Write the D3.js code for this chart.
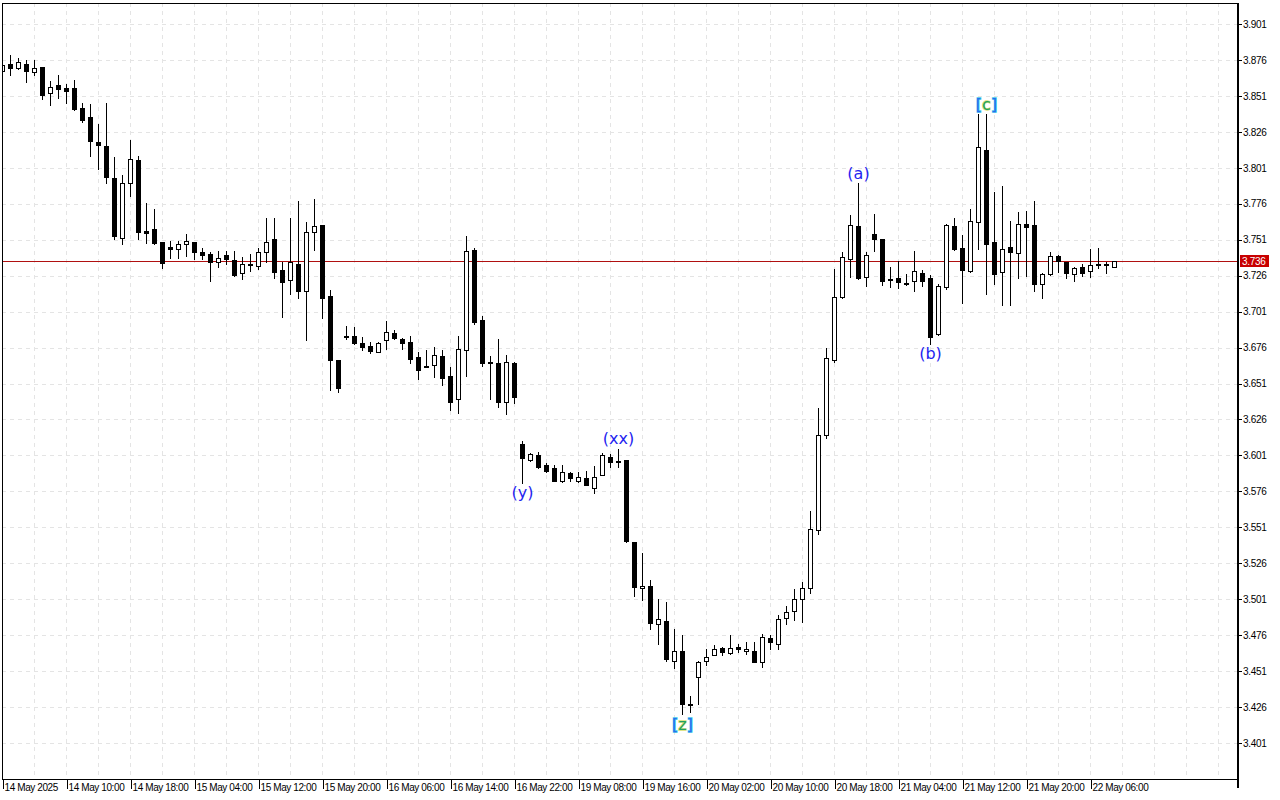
<!DOCTYPE html>
<html>
<head>
<meta charset="utf-8">
<script src="https://cdn.jsdelivr.net/npm/d3@7"></script>
<style>
body { margin: 0; background: #fff; }
svg { display: block; }
</style>
</head>
<body>
<svg id="chart" width="1280" height="800"></svg>
<script>
// hourly candles
const openP = [
    3.868, 3.8732, 3.8704, 3.8732, 3.8676, 3.871, 3.853, 3.8586, 3.8565, 3.8565,
    3.8426, 3.8363, 3.8189, 3.8161, 3.7939, 3.7522, 3.7904, 3.8064, 3.757, 3.7585,
    3.7494, 3.746, 3.7446, 3.748, 3.7494, 3.7425, 3.7411, 3.7355, 3.7404, 3.7369,
    3.7279, 3.7334, 3.7327, 3.7425, 3.7515, 3.7299, 3.723, 3.7341, 3.7153, 3.7563,
    3.7612, 3.7119, 3.6674, 3.6843, 3.684, 3.6792, 3.6771, 3.673, 3.6813, 3.6861,
    3.682, 3.6799, 3.6694, 3.6625, 3.6639, 3.6701, 3.6562, 3.6402, 3.6743, 3.7438,
    3.6952, 3.666, 3.6653, 3.6381, 3.6653, 3.609, 3.5978, 3.6013, 3.5943, 3.5923,
    3.5832, 3.5888, 3.5832, 3.5853, 3.5783, 3.5874, 3.5999, 3.5971, 3.5978, 3.5408,
    3.5088, 3.5102, 3.4838, 3.4858, 3.458, 3.465, 3.4281, 3.4469, 3.458, 3.4622,
    3.4671, 3.4636, 3.4678, 3.465, 3.465, 3.4573, 3.474, 3.4699, 3.488, 3.4928,
    3.5012, 3.5088, 3.5491, 3.6152, 3.6674, 3.7112, 3.7376, 3.7605, 3.7251, 3.755,
    3.7515, 3.7237, 3.7244, 3.7209, 3.7223, 3.7278, 3.7244, 3.6854, 3.7181, 3.7605,
    3.7452, 3.7293, 3.7633, 3.8134, 3.7494, 3.7286, 3.7459, 3.7418, 3.7619, 3.7612,
    3.7202, 3.7272, 3.7397, 3.7355, 3.7272, 3.732, 3.7293, 3.7341, 3.7334, 3.7321
];
const highP = [
    3.874, 3.8794, 3.8774, 3.876, 3.876, 3.871, 3.8614, 3.8655, 3.8593, 3.862,
    3.846, 3.8454, 3.8315, 3.846, 3.8085, 3.796, 3.8203, 3.8092, 3.7765, 3.7724,
    3.7494, 3.7502, 3.7502, 3.755, 3.7494, 3.7453, 3.7425, 3.7432, 3.7432, 3.7432,
    3.739, 3.7411, 3.7453, 3.7661, 3.7661, 3.7355, 3.7661, 3.7779, 3.7633, 3.7793,
    3.7612, 3.716, 3.6674, 3.691, 3.6903, 3.6834, 3.6799, 3.6799, 3.6945, 3.6882,
    3.6827, 3.684, 3.6729, 3.6743, 3.6764, 3.6743, 3.6625, 3.684, 3.7536, 3.7452,
    3.698, 3.6701, 3.682, 3.6708, 3.666, 3.6111, 3.6027, 3.6034, 3.5957, 3.5943,
    3.5943, 3.5895, 3.5895, 3.5902, 3.5936, 3.6027, 3.602, 3.6055, 3.5978, 3.5408,
    3.5332, 3.5143, 3.5012, 3.4991, 3.4803, 3.4761, 3.4337, 3.458, 3.4664, 3.4692,
    3.4678, 3.4761, 3.4699, 3.4713, 3.4713, 3.4768, 3.4761, 3.4901, 3.4963, 3.5081,
    3.513, 3.5623, 3.634, 3.6757, 3.7306, 3.7425, 3.7682, 3.7904, 3.7425, 3.7689,
    3.7515, 3.7321, 3.7362, 3.7272, 3.7432, 3.7299, 3.7265, 3.7202, 3.7619, 3.7661,
    3.7543, 3.7724, 3.8384, 3.8384, 3.7842, 3.7883, 3.764, 3.7703, 3.771, 3.7779,
    3.7279, 3.7425, 3.7404, 3.7355, 3.732, 3.7341, 3.7445, 3.7452, 3.7355, 3.7362
];
const lowP = [
    3.866, 3.8655, 3.870, 3.861, 3.8655, 3.8488, 3.8447, 3.8495, 3.846, 3.8412,
    3.8328, 3.8092, 3.8002, 3.7904, 3.7515, 3.748, 3.7814, 3.7515, 3.7488, 3.748,
    3.7313, 3.7384, 3.7384, 3.7397, 3.7376, 3.7376, 3.7223, 3.732, 3.7341, 3.7258,
    3.7237, 3.7293, 3.7306, 3.7355, 3.7244, 3.6972, 3.7132, 3.7105, 3.6812, 3.7438,
    3.6966, 3.6465, 3.6451, 3.682, 3.6785, 3.6743, 3.6722, 3.673, 3.675, 3.682,
    3.675, 3.6653, 3.6541, 3.6625, 3.6555, 3.65, 3.6326, 3.6305, 3.6562, 3.6924,
    3.6632, 3.6402, 3.6347, 3.6298, 3.6374, 3.5819, 3.5971, 3.5923, 3.5895, 3.5832,
    3.5825, 3.5832, 3.5825, 3.5804, 3.5749, 3.5874, 3.593, 3.593, 3.541, 3.5032,
    3.5005, 3.4803, 3.4699, 3.458, 3.4532, 3.4212, 3.4226, 3.4281, 3.4552, 3.4622,
    3.4622, 3.4629, 3.4643, 3.4629, 3.4573, 3.4539, 3.4664, 3.4664, 3.4838, 3.4866,
    3.4852, 3.5053, 3.5463, 3.6131, 3.666, 3.7105, 3.7251, 3.7237, 3.7188, 3.7432,
    3.7195, 3.7181, 3.7174, 3.7195, 3.7153, 3.7188, 3.6785, 3.6847, 3.7167, 3.7438,
    3.707, 3.7286, 3.7445, 3.7132, 3.7202, 3.7056, 3.7056, 3.7244, 3.7258, 3.7153,
    3.7105, 3.7265, 3.7286, 3.7244, 3.7223, 3.7258, 3.7251, 3.7313, 3.7278, 3.732
];
const closeP = [
    3.8725, 3.8704, 3.8746, 3.8683, 3.8704, 3.8516, 3.8572, 3.8558, 3.8544, 3.8419,
    3.8343, 3.8197, 3.8168, 3.7946, 3.7536, 3.7904, 3.8071, 3.7564, 3.7557, 3.7488,
    3.735, 3.7446, 3.748, 3.7502, 3.7425, 3.7404, 3.7355, 3.7383, 3.7376, 3.7265,
    3.7341, 3.7338, 3.7425, 3.7494, 3.7286, 3.7216, 3.7355, 3.7153, 3.7563, 3.7605,
    3.7105, 3.6674, 3.6479, 3.6836, 3.6792, 3.6764, 3.6736, 3.6792, 3.6868, 3.6827,
    3.6792, 3.6681, 3.6604, 3.6632, 3.6708, 3.6548, 3.6381, 3.675, 3.7431, 3.6938,
    3.6653, 3.6653, 3.6381, 3.666, 3.6416, 3.5993, 3.602, 3.593, 3.5902, 3.5832,
    3.5895, 3.5853, 3.586, 3.5804, 3.586, 3.6013, 3.5964, 3.5964, 3.5415, 3.5095,
    3.5102, 3.4845, 3.4872, 3.4594, 3.465, 3.4281, 3.4274, 3.4573, 3.4608, 3.4664,
    3.4643, 3.4671, 3.4664, 3.4664, 3.4573, 3.4747, 3.4713, 3.4873, 3.4921, 3.5012,
    3.5088, 3.5498, 3.6152, 3.6687, 3.7112, 3.739, 3.7612, 3.7244, 3.7404, 3.7515,
    3.7223, 3.723, 3.7216, 3.7202, 3.7293, 3.7223, 3.6833, 3.7188, 3.7612, 3.7445,
    3.7299, 3.764, 3.8155, 3.748, 3.7272, 3.7445, 3.7425, 3.7619, 3.7598, 3.7202,
    3.7272, 3.7397, 3.7362, 3.7278, 3.7313, 3.7278, 3.7334, 3.7334, 3.7341, 3.736
];

const priceTicks = [3.401, 3.426, 3.451, 3.476, 3.501, 3.526, 3.551, 3.576, 3.601, 3.626, 3.651,
    3.676, 3.701, 3.726, 3.751, 3.776, 3.801, 3.826, 3.851, 3.876, 3.901];
const timeBars = [0, 8, 16, 24, 32, 40, 48, 56, 64, 72, 80, 88, 96, 104, 112, 120, 128, 136];
const timeLabels = ["14 May 2025", "14 May 10:00", "14 May 18:00", "15 May 04:00", "15 May 12:00",
    "15 May 20:00", "16 May 06:00", "16 May 14:00", "16 May 22:00", "19 May 08:00", "19 May 16:00",
    "20 May 02:00", "20 May 10:00", "20 May 18:00", "21 May 04:00", "21 May 12:00", "21 May 20:00",
    "22 May 06:00"];

const waveText = ["(y)", "(xx)", "[z]", "(a)", "(b)", "[c]"];
const waveBars = [65, 77, 85, 107, 116, 123];
const waveSide = ["below", "above", "below", "above", "below", "above"];

const lastPrice = 3.736;

const plotLeft = 2, plotRight = 1237, plotTop = 3, plotBottom = 779;
const barStep = 8;

const svg = d3.select("#chart");

const x = d3.scaleLinear().domain([0, (plotRight - plotLeft) / barStep]).range([plotLeft, plotRight]);
const y = d3.scaleLinear().domain([3.376, 3.9156]).range([plotBottom, plotTop]);

const font = "'Liberation Sans', Arial, sans-serif";

// grid
const grid = svg.append("g").attr("shape-rendering", "crispEdges");
grid.selectAll("line.h")
    .data(priceTicks)
    .join("line")
    .attr("class", "h")
    .attr("x1", plotLeft).attr("x2", plotRight)
    .attr("y1", d => Math.round(y(d)) + 0.5).attr("y2", d => Math.round(y(d)) + 0.5)
    .attr("stroke", "#e4e4e4").attr("stroke-dasharray", "4,4");

grid.selectAll("line.v")
    .data(d3.range(4, (plotRight - plotLeft) / barStep, 4))
    .join("line")
    .attr("class", "v")
    .attr("x1", d => Math.round(x(d)) + 0.5).attr("x2", d => Math.round(x(d)) + 0.5)
    .attr("y1", plotTop).attr("y2", plotBottom)
    .attr("stroke", "#e4e4e4").attr("stroke-dasharray", "4,4");

// price line
svg.append("line")
    .attr("x1", plotLeft).attr("x2", plotRight)
    .attr("y1", Math.round(y(lastPrice)) + 0.5).attr("y2", Math.round(y(lastPrice)) + 0.5)
    .attr("stroke", "#b01010")
    .attr("shape-rendering", "crispEdges");

// candles
svg.append("clipPath").attr("id", "plot-clip")
    .append("rect").attr("x", plotLeft).attr("y", plotTop)
    .attr("width", plotRight - plotLeft).attr("height", plotBottom - plotTop);

const candles = svg.append("g")
    .attr("clip-path", "url(#plot-clip)")
    .attr("shape-rendering", "crispEdges");

const bars = openP.map((o, i) => ({ i: i, o: o, h: highP[i], l: lowP[i], c: closeP[i] }));

candles.selectAll("line.wick")
    .data(bars)
    .join("line")
    .attr("class", "wick")
    .attr("x1", d => Math.round(x(d.i)) + 0.5).attr("x2", d => Math.round(x(d.i)) + 0.5)
    .attr("y1", d => Math.round(y(d.h))).attr("y2", d => Math.round(y(d.l)) + 1)
    .attr("stroke", "#000");

candles.selectAll("rect.down")
    .data(bars.filter(d => d.c < d.o))
    .join("rect")
    .attr("class", "down")
    .attr("x", d => Math.round(x(d.i)) - 2)
    .attr("y", d => Math.round(y(d.o)))
    .attr("width", 5)
    .attr("height", d => Math.max(1, Math.round(y(d.c)) - Math.round(y(d.o)) + 1))
    .attr("fill", "#000");

candles.selectAll("rect.up")
    .data(bars.filter(d => d.c >= d.o))
    .join("rect")
    .attr("class", "up")
    .attr("x", d => Math.round(x(d.i)) - 1.5)
    .attr("y", d => Math.round(y(d.c)) + 0.5)
    .attr("width", 4)
    .attr("height", d => Math.max(0, Math.round(y(d.o)) - Math.round(y(d.c))))
    .attr("fill", "#fff")
    .attr("stroke", "#000");

// wave labels
const labels = svg.append("g").attr("font-family", "'DejaVu Sans', Verdana, sans-serif").attr("font-size", 16);
waveText.forEach((t, k) => {
    const d = bars[waveBars[k]];
    const cx = x(d.i) + 0.5;
    const cy = waveSide[k] === "above" ? y(d.h) - 10 : y(d.l) + 10;
    const label = labels.append("text")
        .attr("x", cx).attr("y", cy)
        .attr("text-anchor", "middle")
        .attr("dominant-baseline", "central");
    if (t[0] === "[") {
        // the original shows a few labels printed on top of each other: coloured halo
        label.attr("stroke", "#d8e070").attr("stroke-width", 1.4).attr("paint-order", "stroke");
        label.append("tspan").attr("fill", "#2a6cf0").attr("stroke", "#40c8e8").text(t[0]);
        label.append("tspan").attr("fill", "#22a060").text(t.slice(1, -1));
        label.append("tspan").attr("fill", "#2a6cf0").attr("stroke", "#40c8e8").text(t.slice(-1));
    } else {
        label.attr("fill", "#2424f0").text(t);
    }
});

// frame
svg.append("path")
    .attr("d", `M${plotLeft + 0.5},${plotBottom + 0.5}V${plotTop + 0.5}H${plotRight}`)
    .attr("fill", "none").attr("stroke", "#000")
    .attr("shape-rendering", "crispEdges");
svg.append("line")
    .attr("x1", plotLeft).attr("x2", plotRight)
    .attr("y1", plotBottom + 0.5).attr("y2", plotBottom + 0.5)
    .attr("stroke", "#000").attr("shape-rendering", "crispEdges");
svg.append("line")
    .attr("x1", plotRight + 0.5).attr("x2", plotRight + 0.5)
    .attr("y1", plotTop).attr("y2", 788)
    .attr("stroke", "#000").attr("stroke-width", 2).attr("shape-rendering", "crispEdges");

// price axis
const yAxis = svg.append("g")
    .attr("transform", `translate(${plotRight + 1},0)`)
    .call(d3.axisRight(y).tickValues(priceTicks).tickFormat(d3.format(".3f")).tickSize(4).tickPadding(1));
yAxis.select(".domain").remove();
yAxis.selectAll(".tick line").attr("stroke", "#000").attr("shape-rendering", "crispEdges");
yAxis.selectAll(".tick text")
    .attr("font-family", font).attr("font-size", 10).attr("letter-spacing", "-0.3px").attr("fill", "#000");

// last price tag
svg.append("rect")
    .attr("x", plotRight + 3).attr("y", Math.round(y(lastPrice)) - 6)
    .attr("width", 29).attr("height", 12)
    .attr("fill", "#c80000");
svg.append("text")
    .attr("x", plotRight + 5).attr("y", y(lastPrice) + 0.5)
    .attr("dominant-baseline", "central")
    .attr("font-family", font).attr("font-size", 10).attr("letter-spacing", "-0.3px")
    .attr("fill", "#fff")
    .text(d3.format(".3f")(lastPrice));

// time axis
const xAxis = svg.append("g")
    .attr("transform", `translate(0,${plotBottom})`)
    .call(d3.axisBottom(x).tickValues(timeBars).tickFormat((d, k) => timeLabels[k]).tickSize(10).tickPadding(0));
xAxis.select(".domain").remove();
xAxis.selectAll(".tick line").attr("stroke", "#000").attr("shape-rendering", "crispEdges")
    .attr("transform", "translate(0.5,0)");
xAxis.selectAll(".tick text")
    .attr("text-anchor", "start")
    .attr("x", 2).attr("y", 5)
    .attr("font-family", font).attr("font-size", 10).attr("letter-spacing", "-0.4px").attr("fill", "#000");
</script>
</body>
</html>
